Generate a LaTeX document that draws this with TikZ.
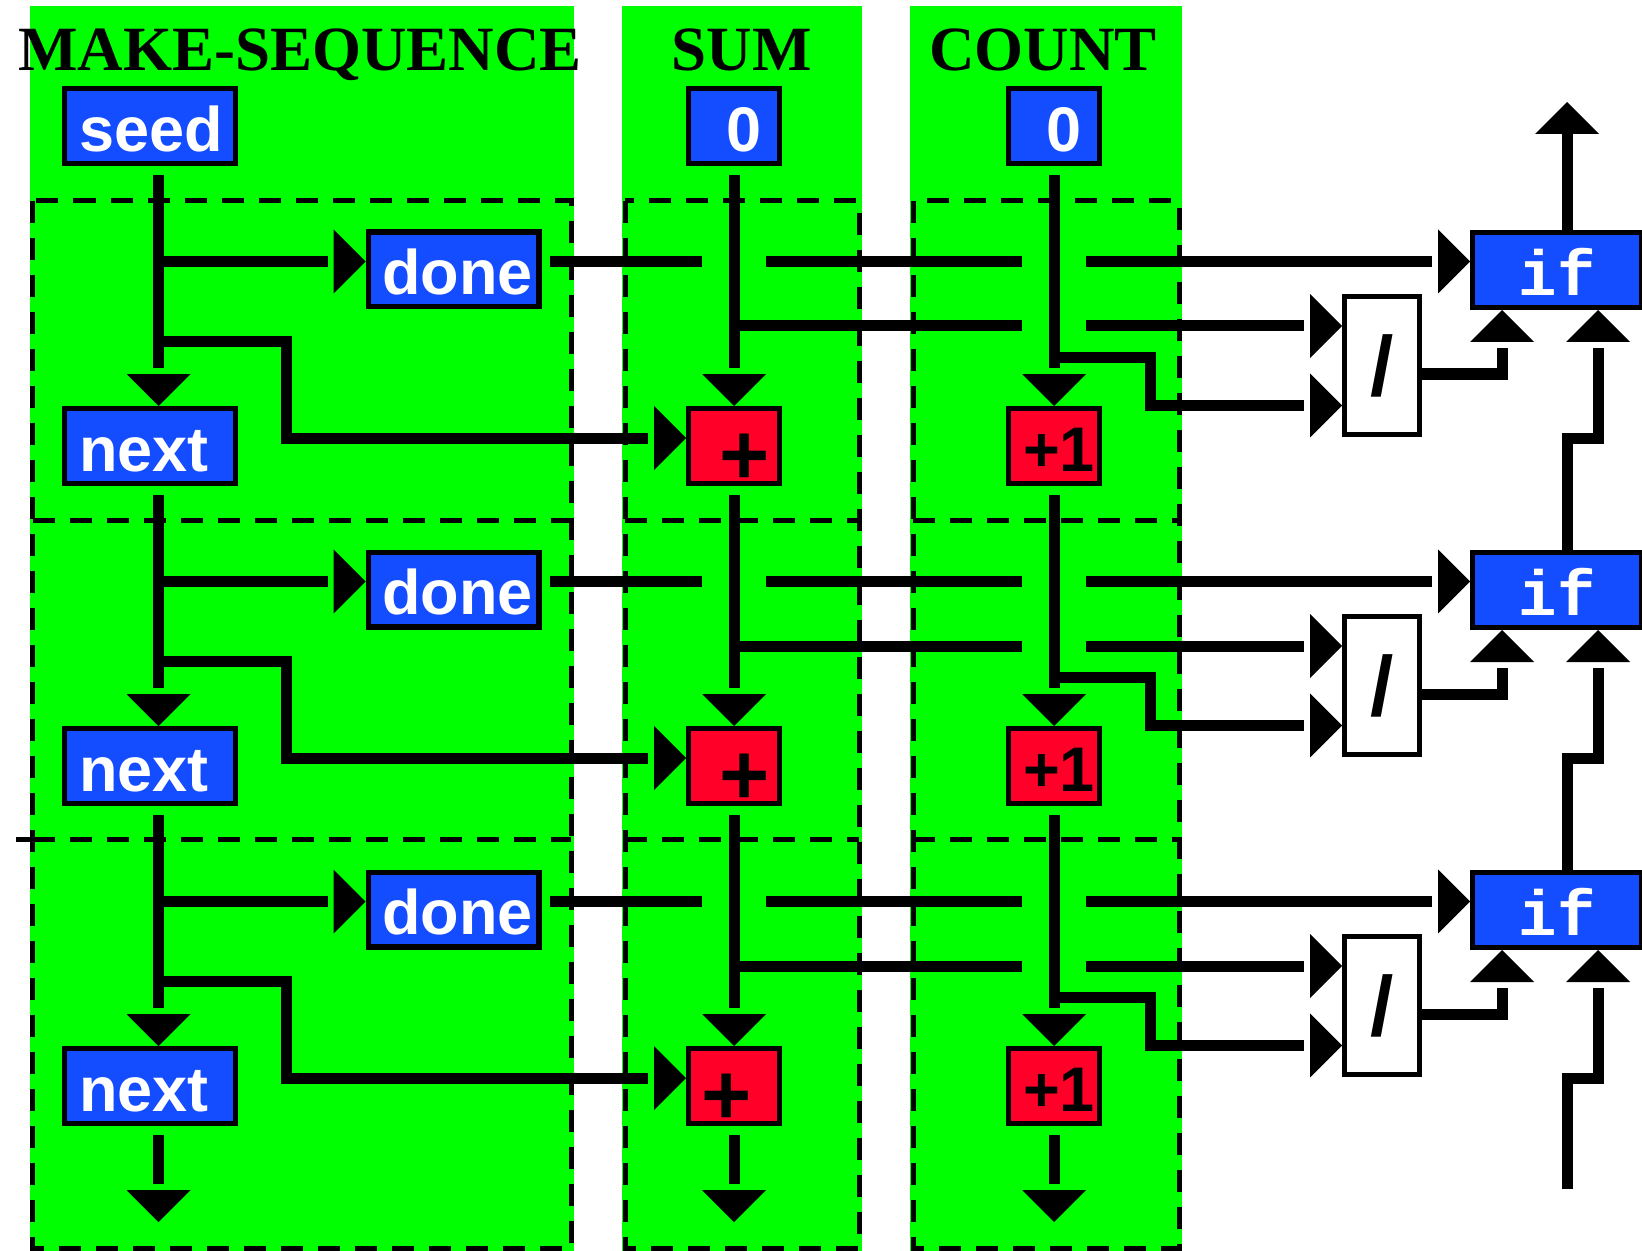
\documentclass[tikz,border=0pt]{standalone}
\usepackage{fontspec}
\setmainfont{Liberation Serif}
\setsansfont{Liberation Sans}
\setmonofont{Liberation Mono}
\usetikzlibrary{decorations.markings}

\definecolor{cellgreen}{RGB}{0,255,0}
\definecolor{opblue}{RGB}{20,76,255}
\definecolor{opred}{RGB}{255,0,40}

\tikzset{
  wire/.style={line width=5.5pt},
  flow/.style={wire, shorten >=19pt, postaction={decorate},
    decoration={markings, mark=at position 1 with
      {\fill (0pt,0pt) -- (-16pt,16pt) -- (-16pt,-16pt) -- cycle;}}},
  gapstart/.style={shorten <=4.3pt},
  stage/.style={line width=2.5pt, dash pattern=on 11pt off 7.5pt},
  opbox/.style={draw, line width=2.6pt, inner xsep=7.2pt, inner ysep=0pt,
    text height=25.2pt, text depth=0pt, align=left, minimum height=37.4pt,
    font=\sffamily\bfseries\fontsize{31.5}{32}\selectfont},
  widebox/.style={opbox, fill=opblue, text=white, text width=71pt},
  narrowbox/.style={opbox, text width=31pt},
  testbox/.style={draw, line width=2.6pt, fill=opblue, text=white, inner sep=0pt,
    minimum width=84.4pt, minimum height=37.4pt, text height=25.6pt, text depth=0pt,
    font=\ttfamily\bfseries\fontsize{32}{32}\selectfont},
  divbox/.style={draw, line width=2.6pt, fill=white, inner sep=0pt,
    minimum width=37.4pt, minimum height=68.9pt,
    font=\sffamily\bfseries\fontsize{42}{42}\selectfont},
  title/.style={anchor=base, font=\bfseries\fontsize{31.5}{32}\selectfont}
}

\begin{document}
\begin{tikzpicture}[x=0.5pt, y=-0.5pt]
  \useasboundingbox (0,0) rectangle (1642,1251);

  % 1. green columns
  \fill[cellgreen] (30,6) rectangle (574,1251);
  \fill[cellgreen] (622,6) rectangle (862,1251);
  \fill[cellgreen] (910,6) rectangle (1182,1251);

  % 2. titles
  \node[title] (tseq) at (300,70.5) {MAKE-SEQUENCE};
  \node[title] (tsum) at (741.5,70.5) {SUM};
  \node[title] (tcnt) at (1043,70.5) {COUNT};

  % 3. dashed stages
  \foreach \l/\rr in {32.5/571, 625/859, 913/1179} {
    \draw[stage] (\l,201) rectangle (\rr,1248);
    \draw[stage] (\l,520) -- (\rr,520);
    \draw[stage] (\l,839) -- (\rr,839);
  }
  \draw[stage] (16,839) -- (32.5,839);

  % 4. initial values
  \node[widebox, alias=next0] (seed) at (150,126) {seed};
  \node[narrowbox, fill=opblue, text=white, alias=plus0] (sumz) at (734,126) {\hspace*{11.6pt}0};
  \node[narrowbox, fill=opblue, text=white, alias=inc0] (cntz) at (1054,126) {\hspace*{11.6pt}0};

  % wire columns
  \coordinate (xa) at (158.5,0);
  \coordinate (xb) at (286.5,0);
  \coordinate (xq) at (1150,0);
  \coordinate (xo) at (1502,0);
  \coordinate (xi) at (1567,0);
  \coordinate (xj) at (1598,0);
  \coordinate (exit) at (0,1222);

  % 5. one stage per row
  \foreach \r [evaluate=\r as \o using {int(320*(\r-1))}, remember=\r as \p (initially 0)] in {1,2,3} {
    \node[widebox] (done\r) at (453.5,269.5+\o) {done};
    \node[widebox] (next\r) at (150,446+\o) {next};
    \node[narrowbox, fill=opred] (plus\r) at (734,446+\o)
      {\ifnum\r<3\hspace*{8pt}\else\hspace*{-0.8pt}\fi\fontsize{43}{43}\selectfont\raisebox{-6.6pt}{+}};
    \node[narrowbox, fill=opred] (inc\r) at (1054,446+\o) {+1};
    \node[divbox] (div\r) at (1382,365.5+\o) {/};
    \node[testbox] (cond\r) at (1557,270+\o) {if};

    \coordinate (dn\r) at (0,261.5+\o);
    \coordinate (sm\r) at (0,326+\o);
    \coordinate (nb\r) at (0,341.5+\o);
    \coordinate (ct\r) at (0,357.5+\o);
    \coordinate (dv\r) at (0,374+\o);
    \coordinate (cq\r) at (0,405.5+\o);
    \coordinate (pl\r) at (0,438+\o);

    % sequence column
    \draw[flow, gapstart] (next\p.south -| xa) -- (next\r.north -| xa);
    \draw[flow] (xa |- dn\r) -- (done\r.west |- dn\r);
    \draw[flow] (xa |- nb\r) -| (xb |- pl\r) -- (plus\r.west |- pl\r);

    % sum and count columns
    \draw[flow, gapstart] (plus\p.south) -- (plus\r.north);
    \draw[flow, gapstart] (inc\p.south) -- (inc\r.north);

    % done wire, hopping over the sum and count lines
    \draw[wire, gapstart] (done\r.east |- dn\r) -- (702,261.5+\o);
    \draw[wire] (766,261.5+\o) -- (1022,261.5+\o);
    \draw[flow] (1086,261.5+\o) -- (cond\r.west |- dn\r);

    % sum and count into the divider
    \draw[wire] (plus\r.north |- sm\r) -- (1022,326+\o);
    \draw[flow] (1086,326+\o) -- (div\r.west |- sm\r);
    \draw[flow] (inc\r.north |- ct\r) -| (xq |- cq\r) -- (div\r.west |- cq\r);

    % divider into the test
    \draw[flow] (div\r.east |- dv\r) -| (cond\r.south -| xo);

    \ifnum\r>1
      \draw[flow] (cond\r.north -| xi) |- (xj |- pl\p) -- (cond\p.south -| xj);
    \fi
  }

  % 6. open ends
  \coordinate (result) at (1567,102);
  \coordinate (feed) at (1567,1189);
  \draw[flow, shorten >=16pt] (cond1.north -| xi) -- (result);
  \draw[flow] (feed) |- (xj |- pl3) -- (cond3.south -| xj);
  \draw[flow, gapstart] (next3.south -| xa) -- (xa |- exit);
  \draw[flow, gapstart] (plus3.south) -- (plus3.south |- exit);
  \draw[flow, gapstart] (inc3.south) -- (inc3.south |- exit);
\end{tikzpicture}
\end{document}
